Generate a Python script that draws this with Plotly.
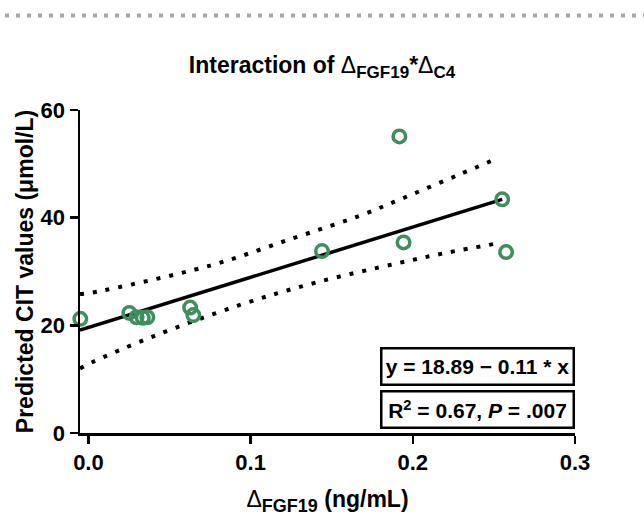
import plotly.graph_objects as go

# Observed points
delta_fgf19 = [-0.005, 0.0252, 0.0297, 0.0335, 0.0363, 0.0627, 0.0647, 0.144, 0.1917, 0.1943, 0.2551, 0.2575]
predicted_cit = [21.2, 22.3, 21.5, 21.4, 21.5, 23.3, 21.9, 33.8, 55.1, 35.4, 43.4, 33.6]

# Regression line (read at its ends)
fit_x = [-0.0052, 0.2551]
fit_y = [19.1, 43.4]

# Confidence band
upper_x = [-0.0052, 0.0026, 0.075, 0.1264, 0.1676, 0.1985, 0.2293, 0.252]
upper_y = [25.8, 26.1, 31.1, 36.2, 40.4, 44.2, 48.1, 51.0]
lower_x = [-0.0052, 0.002, 0.0396, 0.0935, 0.1409, 0.1902, 0.2211, 0.2536]
lower_y = [12.0, 13.1, 17.9, 23.8, 28.0, 31.5, 33.5, 35.3]

x_ticks = [0.0, 0.1, 0.2, 0.3]
x_tick_labels = ["0.0", "0.1", "0.2", "0.3"]
y_ticks = [0, 20, 40, 60]

FONT = "Arial, 'Liberation Sans', sans-serif"
GREEN = "#3e8e5e"

fig = go.Figure()

for bx, by in [(upper_x, upper_y), (lower_x, lower_y)]:
    fig.add_trace(go.Scatter(x=bx, y=by, mode="lines", line_shape="spline",
                             line=dict(color="black", width=4, dash="4px,9px"),
                             hoverinfo="skip", showlegend=False))

fig.add_trace(go.Scatter(x=fit_x, y=fit_y, mode="lines",
                         line=dict(color="black", width=3.5), showlegend=False))

fig.add_trace(go.Scatter(x=delta_fgf19, y=predicted_cit, mode="markers",
                         marker=dict(symbol="circle-open", size=12.5, color=GREEN,
                                     line=dict(color=GREEN, width=3.5)),
                         cliponaxis=False, showlegend=False))

D = "<span style='font-weight:normal'>Δ</span>"
fig.update_layout(
    width=644, height=520,
    margin=dict(l=80, r=69, t=110, b=78),
    paper_bgcolor="white", plot_bgcolor="white",
    font=dict(family=FONT, color="black"),
    hovermode=False,
    title=dict(text=f"<b>Interaction of {D}<sub><span style='font-size:17px'>FGF19</span></sub>*{D}<sub><span style='font-size:17px'>C4</span></sub></b>",
               x=0.5, xanchor="center", y=1 - 65 / 520, yanchor="middle",
               font=dict(size=23, family=FONT, color="black")),
    xaxis=dict(range=[-0.0052, 0.3], tickvals=x_ticks, ticktext=x_tick_labels,
               showgrid=False, zeroline=False, showline=True, linecolor="black", linewidth=2.5,
               ticks="outside", ticklen=8, tickwidth=2.5, tickcolor="black",
               tickfont=dict(size=22, family=FONT, color="black", weight="bold"),
               title=dict(text=f"<b>{D}<sub><span style='font-size:18px'>FGF19</span></sub> (ng/mL)</b>",
                          font=dict(size=23, family=FONT, color="black"), standoff=17)),
    yaxis=dict(range=[0, 60], tickvals=y_ticks,
               showgrid=False, zeroline=False, showline=True, linecolor="black", linewidth=2.5,
               ticks="outside", ticklen=8, tickwidth=2.5, tickcolor="black",
               tickfont=dict(size=22, family=FONT, color="black", weight="bold"),
               title=dict(text="<b>Predicted CIT values (μmol/L)</b>",
                          font=dict(size=23, family=FONT, color="black"), standoff=1)),
)

# decorative dotted top rule
fig.add_shape(type="line", xref="paper", yref="paper",
              x0=(5 - 80) / 495, x1=(644 - 80) / 495,
              y0=(441.7 - 13) / 331.7, y1=(441.7 - 13) / 331.7,
              line=dict(color="#a8a8a8", width=4, dash="4px,7px"))

box_common = dict(xref="paper", yref="paper", x=(477.5 - 80) / 495, xanchor="center",
                  yanchor="middle", showarrow=False, bordercolor="black", borderwidth=2.5,
                  borderpad=2, bgcolor="white", width=186, height=30,
                  font=dict(size=21, family=FONT, color="black"))
fig.add_annotation(text="<b>y = 18.89 − 0.11 * x</b>", y=(441.7 - 373.5) / 331.7, **box_common)
fig.add_annotation(text="<b>R<sup>2</sup> = 0.67, <i>P</i> = .007</b>", y=(441.7 - 417.5) / 331.7, **box_common)

fig.write_html("out.html", config={"displayModeBar": False, "staticPlot": True},
               post_script="document.body.style.margin='0px';")
